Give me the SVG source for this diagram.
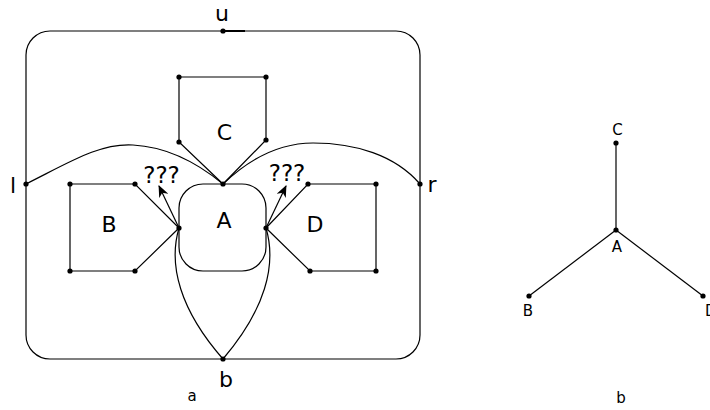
<svg xmlns="http://www.w3.org/2000/svg" width="710" height="410" viewBox="0 0 710 410">
<defs>
<style>
.e{fill:none;stroke:#000;stroke-width:1.2}
.d{fill:#000}
.L{font-family:"DejaVu Sans",sans-serif;font-size:22px;text-anchor:middle;fill:#000}
.q{font-family:"DejaVu Sans",sans-serif;font-size:23px;text-anchor:middle;fill:#000}
.s{font-family:"DejaVu Sans",sans-serif;font-size:15px;text-anchor:middle;fill:#000}
</style>
<marker id="ah" viewBox="0 0 12 10" refX="11" refY="5" markerWidth="13" markerHeight="10" markerUnits="userSpaceOnUse" orient="auto">
<path d="M0,0 L12,5 L0,10 L3.5,5 Z" fill="#000"/>
</marker>
</defs>
<rect width="710" height="410" fill="#fff"/>
<g id="connectors">
<rect class="e" x="26" y="31" width="394" height="328" rx="24" ry="24"/>
<line x1="223" y1="31" x2="245" y2="31" stroke="#000" stroke-width="2"/>
<path class="e" d="M26,184 C70,162 100,143 133,145 C170,147 200,165 223,184"/>
<path class="e" d="M223,184 C245,163 275,143 313,143 C355,143 395,155 420,184"/>
<path class="e" d="M179,228 C168,265 180,310 223,359"/>
<path class="e" d="M266,228 C277,265 265,310 223,359"/>
<polyline class="e" points="223,184 179,142 179,77 266,77 266,140 223,184"/>
<polyline class="e" points="179,228 135,184 70,184 70,271 135,271 179,228"/>
<polyline class="e" points="266,228 308,184 376,184 376,271 310,271 266,228"/>
<line class="e" x1="179" y1="228" x2="159" y2="186" marker-end="url(#ah)"/>
<line class="e" x1="266" y1="228" x2="286" y2="186" marker-end="url(#ah)"/>
<line class="e" x1="616" y1="143" x2="616" y2="230"/>
<line class="e" x1="616" y1="230" x2="529" y2="296"/>
<line class="e" x1="616" y1="230" x2="703" y2="296"/>
</g>
<g id="nodeA">
<rect class="e" x="179" y="184" width="87" height="87" rx="24" ry="24"/>
<circle class="d" cx="223" cy="184" r="2.6"/>
<circle class="d" cx="179" cy="228" r="2.6"/>
<circle class="d" cx="266" cy="228" r="2.6"/>
<text class="L" x="224" y="228">A</text>
</g>
<g id="nodeB">
<circle class="d" cx="135" cy="184" r="2.6"/>
<circle class="d" cx="70" cy="184" r="2.6"/>
<circle class="d" cx="70" cy="271" r="2.6"/>
<circle class="d" cx="135" cy="271" r="2.6"/>
<text class="L" x="109" y="232">B</text>
</g>
<g id="nodeC">
<circle class="d" cx="179" cy="142" r="2.6"/>
<circle class="d" cx="179" cy="77" r="2.6"/>
<circle class="d" cx="266" cy="77" r="2.6"/>
<circle class="d" cx="266" cy="140" r="2.6"/>
<text class="L" x="224.5" y="140">C</text>
</g>
<g id="nodeD">
<circle class="d" cx="308" cy="184" r="2.6"/>
<circle class="d" cx="376" cy="184" r="2.6"/>
<circle class="d" cx="376" cy="271" r="2.6"/>
<circle class="d" cx="310" cy="271" r="2.6"/>
<text class="L" x="315" y="232">D</text>
</g>
<g id="nodeU">
<circle class="d" cx="223" cy="31" r="2.6"/>
<text class="L" x="222" y="21">u</text>
</g>
<g id="nodeL">
<circle class="d" cx="26" cy="184" r="2.6"/>
<text class="L" x="13" y="193">l</text>
</g>
<g id="nodeR">
<circle class="d" cx="420" cy="184" r="2.6"/>
<text class="L" x="432" y="192">r</text>
</g>
<g id="nodeBottom">
<circle class="d" cx="223" cy="359" r="2.6"/>
<text class="L" x="226" y="387">b</text>
</g>
<g id="labels">
<text class="q" x="161.5" y="183">???</text>
<text class="q" x="287" y="181">???</text>
<text class="s" x="192" y="401">a</text>
<text class="s" x="621" y="403">b</text>
</g>
<g id="treeC">
<circle class="d" cx="616" cy="143" r="2.6"/>
<text class="s" x="617.5" y="134.5">C</text>
</g>
<g id="treeA">
<circle class="d" cx="616" cy="230" r="2.6"/>
<text class="s" x="617" y="252">A</text>
</g>
<g id="treeB">
<circle class="d" cx="529" cy="296" r="2.6"/>
<text class="s" x="528" y="316">B</text>
</g>
<g id="treeD">
<circle class="d" cx="703" cy="296" r="2.6"/>
<text class="s" x="705" y="316" style="text-anchor:start">D</text>
</g>
</svg>
